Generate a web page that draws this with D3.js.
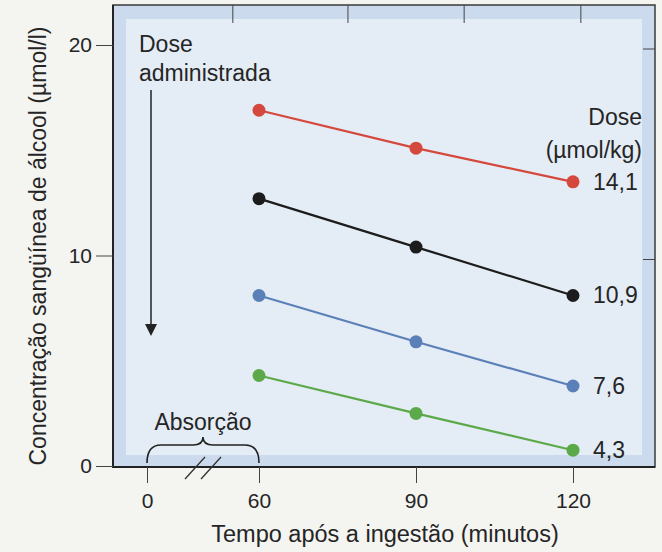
<!DOCTYPE html>
<html>
<head>
<meta charset="utf-8">
<script src="https://cdn.jsdelivr.net/npm/d3@7"></script>
<style>
  body { margin: 0; background: #f4f4f1; }
  svg { display: block; font-family: "Liberation Sans", Arial, sans-serif; }
</style>
</head>
<body>
<svg id="chart" width="662" height="552"></svg>
<script>
var times = [60, 90, 120];
var doses = ["14,1", "10,9", "7,6", "4,3"];
var colors = ["#d5483d", "#1c1c1c", "#5b80b8", "#5ca94a"];
var conc141 = [16.9, 15.1, 13.5];
var conc109 = [12.7, 10.4, 8.1];
var conc76 = [8.1, 5.9, 3.8];
var conc43 = [4.3, 2.5, 0.75];
var xTicks = [0, 60, 90, 120];
var yTicks = [0, 10, 20];
var topTicks = [55, 77, 99.2, 121.5];
var rightTicks = [10, 20];

var series = [conc141, conc109, conc76, conc43].map(function (vals, i) {
    return {
        dose: doses[i], color: colors[i],
        points: vals.map(function (v, j) { return {t: times[j], c: v}; })
    };
});

var svg = d3.select("#chart");
var box = {left: 113, right: 655, top: 5, bottom: 467};
var ink = "#252525";

// broken axis: 0 then a gap up to 60
var x = d3.scaleLinear().domain([0, 60, 120]).range([147, 259, 573]);
var xTop = d3.scaleLinear().domain([60, 120]).range([259, 573]);
var y = d3.scaleLinear().domain([0, 20]).range([466, 45]);

svg.append("rect")
    .attr("x", box.left).attr("y", box.top)
    .attr("width", box.right - box.left).attr("height", box.bottom - box.top)
    .attr("fill", "#cbdaec");
svg.append("rect")
    .attr("x", box.left + 13).attr("y", box.top + 14)
    .attr("width", box.right - box.left - 26).attr("height", box.bottom - box.top - 26)
    .attr("fill", "#e4ecf5");
svg.append("rect")
    .attr("x", box.left).attr("y", box.top)
    .attr("width", box.right - box.left).attr("height", box.bottom - box.top)
    .attr("fill", "none").attr("stroke", "#3a3a3a").attr("stroke-width", 1.5);
svg.append("path")
    .attr("d", "M" + box.left + "," + box.top + "V" + box.bottom + "H" + box.right)
    .attr("fill", "none").attr("stroke", "#222").attr("stroke-width", 2);

// left axis
var yAxis = svg.append("g")
    .attr("transform", "translate(" + box.left + ",0)")
    .call(d3.axisLeft(y).tickValues(yTicks).tickSize(17).tickPadding(4));
yAxis.select(".domain").remove();
yAxis.selectAll("line").attr("stroke", "#444").attr("stroke-width", 1);
yAxis.selectAll("text").attr("font-size", 21).attr("fill", ink)
    .attr("font-family", "Liberation Sans, Arial, sans-serif");

// right inner ticks
svg.selectAll("line.rtick").data(rightTicks).enter()
    .append("line").attr("class", "rtick")
    .attr("x1", box.right - 12).attr("x2", box.right)
    .attr("y1", function (d) { return y(d) + 4; })
    .attr("y2", function (d) { return y(d) + 4; })
    .attr("stroke", "#444").attr("stroke-width", 1);

// top inner ticks
svg.selectAll("line.ttick").data(topTicks).enter()
    .append("line").attr("class", "ttick")
    .attr("x1", function (d) { return xTop(d); })
    .attr("x2", function (d) { return xTop(d); })
    .attr("y1", box.top).attr("y2", box.top + 18)
    .attr("stroke", "#444").attr("stroke-width", 1);

// bottom axis
var xAxis = svg.append("g")
    .attr("transform", "translate(0," + box.bottom + ")")
    .call(d3.axisBottom(x).tickValues(xTicks).tickSize(16).tickPadding(10));
xAxis.select(".domain").remove();
xAxis.selectAll("line").attr("stroke", "#444").attr("stroke-width", 1);
xAxis.selectAll("text").attr("font-size", 21).attr("fill", ink)
    .attr("font-family", "Liberation Sans, Arial, sans-serif");

// axis break marks
var bx = (x(0) + x(60)) / 2;
[-8, 8].forEach(function (dx) {
    svg.append("line")
        .attr("x1", bx + dx - 10).attr("y1", box.bottom + 12)
        .attr("x2", bx + dx + 10).attr("y2", box.bottom - 10)
        .attr("stroke", "#333").attr("stroke-width", 1.3);
});

// Absorção brace
var b0 = x(0), b1 = x(60), bm = (b0 + b1) / 2, by = box.bottom - 22;
svg.append("path")
    .attr("d", "M" + b0 + "," + (by + 18) + "Q" + b0 + "," + by + " " + (b0 + 14) + "," + by +
        "H" + (bm - 10) + "Q" + bm + "," + by + " " + bm + "," + (by - 8) +
        "Q" + bm + "," + by + " " + (bm + 10) + "," + by +
        "H" + (b1 - 14) + "Q" + b1 + "," + by + " " + b1 + "," + (by + 18))
    .attr("fill", "none").attr("stroke", "#222").attr("stroke-width", 1.6);
svg.append("text")
    .attr("x", bm).attr("y", by - 15)
    .attr("text-anchor", "middle").attr("font-size", 23).attr("fill", ink)
    .text("Absorção");

// dose administered arrow
svg.append("text").attr("x", 139).attr("y", 52)
    .attr("font-size", 23).attr("fill", ink).text("Dose");
svg.append("text").attr("x", 139).attr("y", 81)
    .attr("font-size", 23).attr("fill", ink).text("administrada");
svg.append("line")
    .attr("x1", 151).attr("x2", 151).attr("y1", 90).attr("y2", 326)
    .attr("stroke", "#222").attr("stroke-width", 1.5);
svg.append("path")
    .attr("d", "M145,324L157,324L151,336Z")
    .attr("fill", "#222");

// lines and dots
var line = d3.line()
    .x(function (d) { return x(d.t); })
    .y(function (d) { return y(d.c); });

var groups = svg.selectAll("g.series").data(series).enter()
    .append("g").attr("class", "series");

groups.append("path")
    .attr("d", function (d) { return line(d.points); })
    .attr("fill", "none")
    .attr("stroke", function (d) { return d.color; })
    .attr("stroke-width", 2.2);

groups.selectAll("circle")
    .data(function (d) { return d.points.map(function (p) { return {p: p, color: d.color}; }); })
    .enter().append("circle")
    .attr("r", 6.5)
    .attr("cx", function (d) { return x(d.p.t); })
    .attr("cy", function (d) { return y(d.p.c); })
    .attr("fill", function (d) { return d.color; });

groups.append("text")
    .attr("x", x(120) + 20)
    .attr("y", function (d) { return y(d.points[2].c) + 8; })
    .attr("font-size", 23).attr("fill", ink)
    .text(function (d) { return d.dose; });

svg.append("text").attr("x", 642).attr("y", 125)
    .attr("text-anchor", "end").attr("font-size", 23).attr("fill", ink).text("Dose");
svg.append("text").attr("x", 642).attr("y", 158)
    .attr("text-anchor", "end").attr("font-size", 23).attr("fill", ink).text("(µmol/kg)");

// axis titles
svg.append("text")
    .attr("transform", "translate(46,246) rotate(-90)")
    .attr("text-anchor", "middle").attr("font-size", 23).attr("fill", ink)
    .text("Concentração sangüínea de álcool (µmol/l)");
svg.append("text")
    .attr("x", 385).attr("y", 542)
    .attr("text-anchor", "middle").attr("font-size", 23.5).attr("fill", ink)
    .text("Tempo após a ingestão (minutos)");
</script>
</body>
</html>
